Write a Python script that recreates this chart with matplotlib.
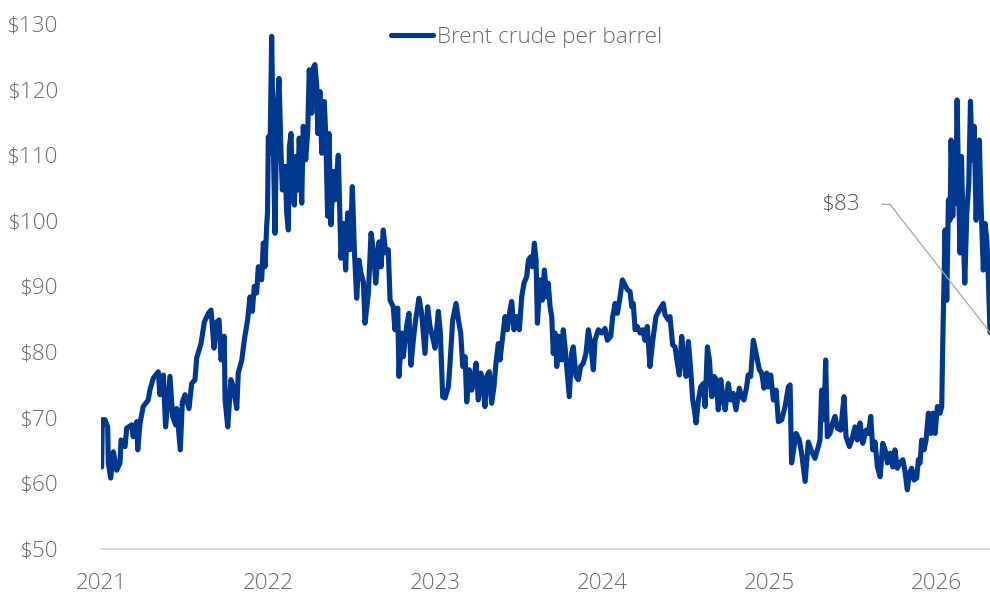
import numpy as np
import matplotlib
matplotlib.use("Agg")
import matplotlib.pyplot as plt

plt.rcParams['font.family'] = ['Open Sans', 'DejaVu Sans']
plt.rcParams['font.weight'] = 'light'

# Brent crude: offset within each year (fraction) and $ per barrel
o21 = [0.004, 0.008, 0.024, 0.040, 0.044, 0.058, 0.074, 0.094, 0.114, 0.120, 0.144, 0.154, 0.184, 0.193, 0.214, 0.220,
       0.234, 0.253, 0.283, 0.293, 0.313, 0.343, 0.353, 0.373, 0.387, 0.413, 0.429, 0.447, 0.453, 0.475, 0.487, 0.503,
       0.527, 0.543, 0.563, 0.573, 0.599, 0.619, 0.643, 0.659, 0.677, 0.693, 0.707, 0.719, 0.738, 0.743, 0.759, 0.778,
       0.792, 0.813, 0.822, 0.843, 0.858, 0.878, 0.892, 0.906, 0.918, 0.932, 0.942, 0.962, 0.972, 0.982, 0.992, 0.997]
p21 = [62.5, 69.7, 69.7, 68.6, 63.1, 60.8, 64.8, 62.0, 63.1, 66.6, 65.6, 68.4, 68.9, 67.1, 69.4, 65.1,
       69.2, 71.7, 72.7, 74.2, 76.0, 77.0, 73.5, 76.5, 68.6, 76.3, 70.2, 68.9, 71.4, 65.1, 72.4, 73.5,
       71.4, 75.2, 75.8, 79.1, 81.3, 84.6, 85.9, 86.4, 80.6, 84.6, 84.9, 78.8, 82.4, 72.7, 68.6, 75.8,
       74.7, 71.4, 76.8, 78.8, 81.8, 84.9, 88.4, 86.2, 90.0, 89.0, 93.0, 91.0, 96.6, 93.0, 99.2, 101.2]

o22 = [0.002, 0.012, 0.022, 0.032, 0.042, 0.052, 0.066, 0.078, 0.086, 0.102, 0.112, 0.122, 0.128, 0.138, 0.146, 0.158,
       0.166, 0.178, 0.187, 0.202, 0.211, 0.226, 0.238, 0.247, 0.262, 0.271, 0.281, 0.292, 0.298, 0.311, 0.322, 0.337,
       0.346, 0.357, 0.365, 0.377, 0.391, 0.401, 0.421, 0.437, 0.451, 0.465, 0.477, 0.491, 0.505, 0.517, 0.531, 0.545,
       0.557, 0.571, 0.581, 0.601, 0.617, 0.631, 0.645, 0.665, 0.677, 0.690, 0.705, 0.720, 0.731, 0.750, 0.760, 0.777,
       0.784, 0.801, 0.810, 0.831, 0.844, 0.856, 0.870, 0.884, 0.904, 0.920, 0.940, 0.956, 0.970, 0.990]
p22 = [112.8, 110.3, 128.1, 111.3, 98.1, 115.8, 121.7, 110.3, 104.7, 108.3, 101.2, 98.6, 111.3, 113.3, 104.7, 102.4,
       109.8, 104.7, 112.6, 102.7, 114.4, 109.3, 113.8, 123.0, 116.4, 123.3, 123.8, 120.5, 113.3, 119.7, 110.3, 118.2,
       112.8, 100.7, 113.3, 99.4, 107.5, 103.2, 110.0, 94.3, 99.6, 92.5, 101.2, 95.6, 105.2, 95.6, 88.2, 94.0,
       92.0, 90.7, 84.4, 89.0, 98.1, 95.6, 90.5, 96.8, 93.0, 98.6, 95.1, 95.6, 87.9, 86.9, 83.4, 86.7,
       76.3, 82.9, 79.3, 84.1, 85.9, 78.0, 81.8, 84.9, 88.2, 85.9, 79.8, 86.9, 83.9, 81.8]

o23 = [0.000, 0.020, 0.032, 0.046, 0.060, 0.080, 0.090, 0.106, 0.126, 0.140, 0.154, 0.166, 0.180, 0.190, 0.205, 0.220,
       0.234, 0.246, 0.259, 0.274, 0.286, 0.299, 0.310, 0.325, 0.339, 0.353, 0.365, 0.379, 0.389, 0.405, 0.419, 0.433,
       0.449, 0.459, 0.473, 0.489, 0.505, 0.519, 0.533, 0.549, 0.559, 0.573, 0.583, 0.595, 0.605, 0.613, 0.629, 0.643,
       0.655, 0.669, 0.678, 0.689, 0.699, 0.708, 0.719, 0.729, 0.743, 0.759, 0.768, 0.782, 0.792, 0.804, 0.818, 0.828,
       0.844, 0.858, 0.872, 0.888, 0.904, 0.918, 0.932, 0.948, 0.958, 0.978, 0.998]
p23 = [80.6, 86.2, 82.9, 73.2, 73.0, 74.7, 78.3, 84.9, 87.4, 84.9, 82.9, 77.8, 79.3, 72.4, 77.3, 74.2,
       76.3, 78.3, 72.7, 76.8, 75.2, 71.7, 76.3, 77.0, 72.2, 74.7, 78.3, 81.3, 78.8, 82.4, 85.4, 83.4,
       86.4, 87.7, 83.4, 85.4, 83.4, 88.4, 90.5, 91.5, 94.0, 94.5, 93.0, 96.6, 94.0, 84.4, 91.0, 87.9,
       92.5, 88.4, 90.5, 86.9, 85.4, 79.8, 82.9, 77.8, 82.4, 78.8, 83.4, 79.8, 76.8, 73.2, 79.8, 80.8,
       76.3, 75.8, 77.8, 78.3, 79.8, 83.4, 81.3, 77.3, 81.8, 83.4, 82.9]

o24 = [0.018, 0.032, 0.052, 0.064, 0.078, 0.092, 0.108, 0.122, 0.138, 0.152, 0.168, 0.178, 0.187, 0.198, 0.211, 0.228,
       0.244, 0.257, 0.271, 0.287, 0.304, 0.323, 0.343, 0.367, 0.377, 0.397, 0.407, 0.423, 0.437, 0.451, 0.463, 0.477,
       0.491, 0.503, 0.517, 0.531, 0.543, 0.553, 0.563, 0.577, 0.591, 0.607, 0.617, 0.631, 0.643, 0.657, 0.671, 0.683,
       0.696, 0.711, 0.723, 0.737, 0.756, 0.771, 0.786, 0.802, 0.822, 0.836, 0.850, 0.866, 0.875, 0.890, 0.906, 0.916,
       0.930, 0.942, 0.956, 0.970, 0.986, 0.996]
p24 = [83.6, 81.8, 82.4, 85.4, 87.4, 85.9, 88.4, 91.0, 90.2, 89.5, 89.2, 86.9, 87.4, 83.4, 83.9, 82.9,
       83.4, 81.8, 83.9, 77.8, 81.8, 85.4, 86.4, 87.4, 85.7, 84.9, 85.4, 81.1, 80.8, 78.3, 76.5, 82.4,
       78.8, 76.3, 81.6, 77.3, 72.7, 71.2, 69.2, 72.7, 74.7, 75.2, 71.7, 80.8, 78.8, 73.2, 76.3, 75.8,
       71.2, 75.8, 73.2, 71.2, 75.2, 72.7, 73.7, 71.2, 74.5, 73.2, 72.7, 74.7, 76.5, 76.3, 81.8, 80.6,
       78.8, 77.3, 76.8, 74.5, 76.8, 74.7]

o25 = [0.010, 0.026, 0.042, 0.056, 0.076, 0.096, 0.116, 0.126, 0.135, 0.150, 0.162, 0.181, 0.195, 0.216, 0.235, 0.256,
       0.275, 0.295, 0.305, 0.315, 0.329, 0.339, 0.349, 0.365, 0.381, 0.395, 0.409, 0.429, 0.449, 0.461, 0.481, 0.495,
       0.515, 0.529, 0.545, 0.561, 0.581, 0.595, 0.609, 0.621, 0.635, 0.649, 0.665, 0.681, 0.695, 0.709, 0.725, 0.741,
       0.754, 0.768, 0.784, 0.801, 0.814, 0.828, 0.840, 0.854, 0.868, 0.884, 0.894, 0.904, 0.914, 0.928, 0.940, 0.954,
       0.968, 0.980, 0.994]
p25 = [76.5, 72.7, 74.2, 69.4, 69.7, 71.7, 74.7, 75.0, 63.1, 65.6, 67.6, 66.6, 64.6, 60.3, 66.3, 64.8,
       63.8, 65.6, 66.6, 74.2, 69.7, 78.8, 67.1, 67.6, 69.2, 70.2, 68.4, 68.1, 73.2, 67.1, 65.6, 66.6,
       68.6, 66.6, 69.2, 66.1, 68.1, 67.6, 70.2, 65.1, 66.3, 62.5, 61.0, 66.1, 65.1, 63.1, 64.6, 62.5,
       65.1, 62.3, 63.1, 63.6, 61.8, 59.0, 61.5, 62.3, 60.5, 60.8, 63.6, 63.1, 66.6, 65.1, 66.6, 70.7,
       67.6, 70.7, 67.6]

o26 = [0.008, 0.024, 0.034, 0.040, 0.048, 0.054, 0.064, 0.074, 0.084, 0.090, 0.100, 0.108, 0.118, 0.126, 0.136, 0.144,
       0.152, 0.164, 0.172, 0.184, 0.196, 0.206, 0.216, 0.228, 0.240, 0.247, 0.259, 0.269, 0.283, 0.293, 0.304, 0.313,
       0.323]
p26 = [71.7, 70.7, 71.7, 81.3, 91.0, 98.6, 87.9, 103.2, 100.1, 112.3, 100.7, 108.8, 102.7, 118.4, 103.7, 95.1,
       109.8, 97.1, 90.5, 101.2, 105.7, 118.2, 109.3, 114.4, 100.1, 106.2, 112.3, 102.7, 92.5, 99.6, 97.1, 91.5,
       83.0]

years = [2021, 2022, 2023, 2024, 2025, 2026]
offsets = [o21, o22, o23, o24, o25, o26]
prices = [p21, p22, p23, p24, p25, p26]

t = np.concatenate([y + np.array(o) for y, o in zip(years, offsets)])
price = np.concatenate([np.array(p) for p in prices])

blue = '#00388F'
grey_txt = '#6b6b6b'
fs = 16.2

fig = plt.figure(figsize=(9.9, 5.98), dpi=100)
ax = fig.add_axes([0.102, 0.082, 0.898, 0.878])

ax.plot(t, price, color=blue, lw=3.7, solid_joinstyle='round', solid_capstyle='round',
        label='Brent crude per barrel')

ax.set_xlim(2021, t[-1])
ax.set_ylim(50, 130)
ax.set_yticks(range(50, 131, 10))
ax.set_yticklabels([f'${v}' for v in range(50, 131, 10)])
ax.set_xticks(years)
ax.set_xticklabels([str(y) for y in years])

for s in ['top', 'right', 'left']:
    ax.spines[s].set_visible(False)
ax.spines['bottom'].set_color('#d9d9d9')
ax.spines['bottom'].set_linewidth(1.3)
ax.tick_params(axis='both', length=0, labelsize=fs, colors=grey_txt)
ax.tick_params(axis='y', pad=31)
ax.tick_params(axis='x', pad=17)

# label for the latest value
ax.annotate(f'${price[-1]:.0f}', xy=(t[-1], price[-1]), xytext=(-130, 128),
            textcoords='offset pixels', ha='right', va='center', fontsize=fs, color='#555555',
            arrowprops=dict(arrowstyle='-', color='#a6a6a6', lw=0.9, relpos=(1, 0.5),
                            shrinkA=14, shrinkB=0,
                            connectionstyle='angle,angleA=0,angleB=128,rad=0'),
            annotation_clip=False)

fig.legend(loc='center', bbox_to_anchor=(0.532, 0.938), frameon=False, fontsize=fs,
           handlelength=1.85, handletextpad=0.2, labelcolor=grey_txt)

fig.savefig('out.png', dpi=100)
